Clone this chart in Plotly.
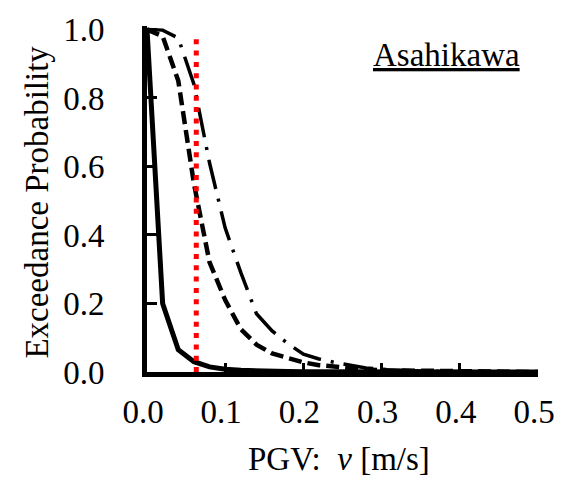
import plotly.graph_objects as go

# PGV grid [m/s]
pgv = [0.00, 0.02, 0.04, 0.06, 0.08, 0.10, 0.12, 0.14, 0.16, 0.18, 0.20,
       0.22, 0.24, 0.26, 0.28, 0.30, 0.35, 0.40, 0.45, 0.50]

# Exceedance probabilities
p_solid = [1.000, 0.200, 0.065, 0.030, 0.015, 0.008, 0.005, 0.003, 0.002, 0.0015, 0.001,
           0.001, 0.0008, 0.0006, 0.0005, 0.0004, 0.0002, 0.0001, 0.0, 0.0]
p_dash = [1.000, 0.980, 0.850, 0.550, 0.320, 0.210, 0.125, 0.080, 0.054, 0.040, 0.028,
          0.020, 0.015, 0.010, 0.007, 0.005, 0.003, 0.001, 0.0005, 0.0]
p_dashdot = [1.000, 0.998, 0.975, 0.840, 0.610, 0.420, 0.290, 0.170, 0.120, 0.083, 0.052,
             0.038, 0.028, 0.019, 0.012, 0.008, 0.003, 0.001, 0.0005, 0.0]

# threshold PGV (red dotted line)
v_threshold = 0.063
threshold_y = [0.0, 0.98]

x_ticks = [0.0, 0.1, 0.2, 0.3, 0.4, 0.5]
x_ticklabels = ["0.0", "0.1", "0.2", "0.3", "0.4", "0.5"]
y_ticks = [0.0, 0.2, 0.4, 0.6, 0.8, 1.0]
y_ticklabels = ["0.0", "0.2", "0.4", "0.6", "0.8", "1.0"]

FONT = "Times New Roman, Liberation Serif, DejaVu Serif, serif"
FS = 33

fig = go.Figure()
fig.add_trace(go.Scatter(x=pgv, y=p_dashdot, mode="lines",
                         line=dict(color="black", width=3.5, dash="30px,10px,3px,10px")))
fig.add_trace(go.Scatter(x=pgv, y=p_dash, mode="lines",
                         line=dict(color="black", width=4.5, dash="13px,6px")))
fig.add_trace(go.Scatter(x=pgv, y=p_solid, mode="lines",
                         line=dict(color="black", width=5)))
fig.add_trace(go.Scatter(x=[v_threshold, v_threshold], y=threshold_y, mode="lines",
                         line=dict(color="#ff0000", width=5, dash="5px,6.3px")))

fig.update_layout(
    width=568, height=477,
    margin=dict(l=147, r=30, t=23.5, b=104.5),
    paper_bgcolor="white", plot_bgcolor="white",
    showlegend=False,
    font=dict(family=FONT, size=FS, color="black"),
    xaxis=dict(range=[0, 0.5], tickvals=x_ticks, ticktext=x_ticklabels,
               showgrid=False, zeroline=False, showline=True, linecolor="black",
               linewidth=5, ticks="inside", ticklen=9, tickwidth=2.5, tickcolor="black",
               ticklabelstandoff=6, ticklabelshift=-4, layer="below traces",
               tickfont=dict(family=FONT, size=FS)),
    yaxis=dict(range=[0, 1.01], tickvals=y_ticks, ticktext=y_ticklabels,
               showgrid=False, zeroline=False, showline=True, linecolor="black",
               linewidth=5, ticks="inside", ticklen=10, tickwidth=2.5, tickcolor="black",
               ticklabelstandoff=31, layer="below traces",
               tickfont=dict(family=FONT, size=FS)),
    annotations=[
        dict(text="Exceedance Probability", xref="paper", yref="paper",
             x=-0.281, y=0.49, xanchor="center", yanchor="middle", textangle=-90,
             showarrow=False, font=dict(family=FONT, size=FS)),
        dict(text="PGV:\u00a0 <i>v</i> [m/s]", xref="paper", yref="paper",
             x=0.49, y=-0.25, xanchor="center", yanchor="middle",
             showarrow=False, font=dict(family=FONT, size=FS)),
        dict(text="<u>Asahikawa</u>", xref="paper", yref="paper",
             x=0.766, y=0.915, xanchor="center", yanchor="middle",
             showarrow=False, font=dict(family=FONT, size=FS)),
    ],
)

fig.write_html("out.html", config={"displayModeBar": False},
               post_script="document.body.style.margin='0';document.body.style.overflow='hidden';")
